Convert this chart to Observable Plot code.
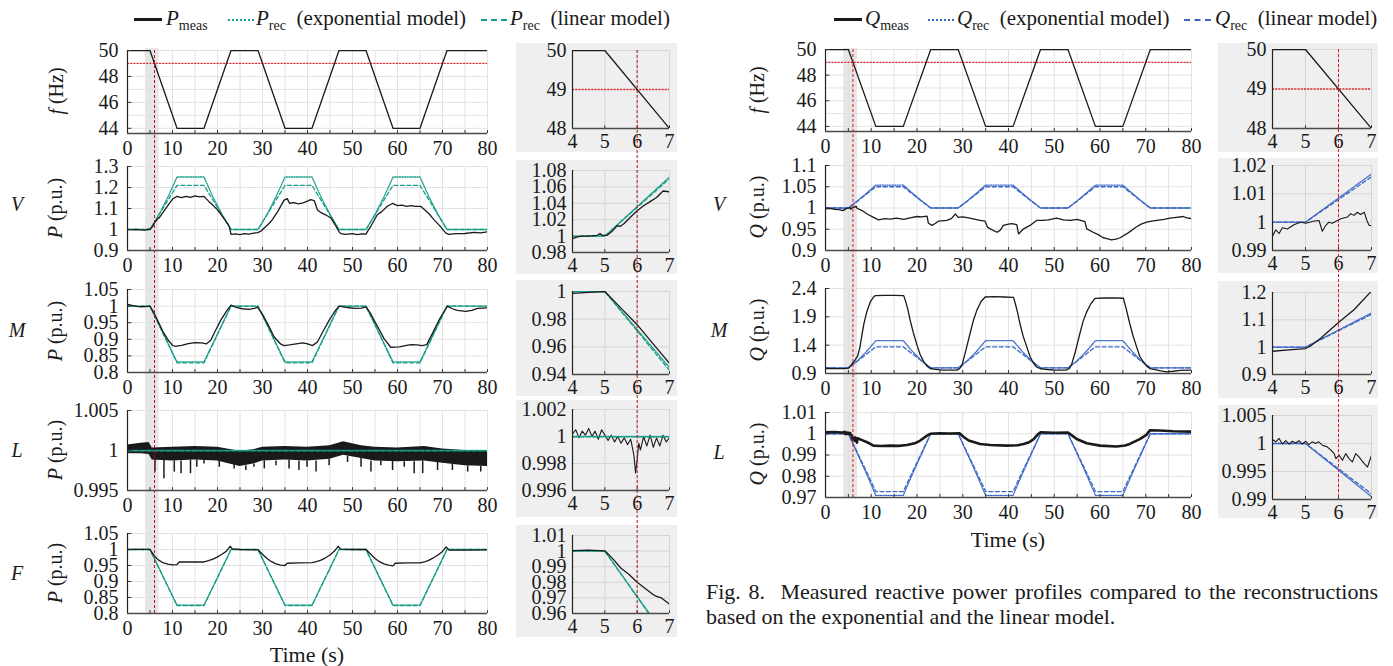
<!DOCTYPE html>
<html><head><meta charset="utf-8">
<script src="https://cdn.jsdelivr.net/npm/d3@7"></script>
<script src="https://cdn.jsdelivr.net/npm/@observablehq/plot@0.6"></script>
<style>
body{margin:0;background:#fff;}
#root{position:relative;width:1393px;height:666px;overflow:hidden;background:#fff;font-family:"Liberation Serif","Times New Roman",serif;color:#1a1a1a;}
#root svg, #root svg text{font-family:"Liberation Serif","Times New Roman",serif !important;}
.t{position:absolute;white-space:nowrap;font-size:20px;line-height:1;}
.rot{transform:translate(-50%,-50%) rotate(-90deg);}
.ctr{transform:translate(-50%,-50%);}
sub{font-size:14px;vertical-align:-5px;line-height:0;}
i{font-style:italic;}
</style></head><body><div id="root"></div>
<script>
// ---------------- DATA ----------------
const zoomWindow = [4, 7];
const markerT = 6;
const fThreshold = 49;

const mainXTicks = [0,10,20,30,40,50,60,70,80];
const mainXGrid = [0,5,10,15,20,25,30,35,40,45,50,55,60,65,70,75,80];
const insetXTicks = [4,5,6,7];

// frequency profile
const tProfile = [0,5,11,17,23,29,35,41,47,53,59,65,71,80];
const fHz      = [50,50,44,44,50,50,44,44,50,50,44,44,50,50];

// reconstructions (time points and values)
const tRec = [0,5,7,9,11,17,19,21,23,29,31,33,35,41,43,45,47,53,55,57,59,65,67,69,71,80];
const pV_exp = [1,1,1.072,1.155,1.25,1.25,1.155,1.072,1,1,1.072,1.155,1.25,1.25,1.155,1.072,1,1,1.072,1.155,1.25,1.25,1.155,1.072,1,1];
const pV_lin = [1,1,1.07,1.14,1.21,1.21,1.14,1.07,1,1,1.07,1.14,1.21,1.21,1.14,1.07,1,1,1.07,1.14,1.21,1.21,1.14,1.07,1,1];
const pM_exp = [1,1,0.945,0.888,0.832,0.832,0.888,0.945,1,1,0.945,0.888,0.832,0.832,0.888,0.945,1,1,0.945,0.888,0.832,0.832,0.888,0.945,1,1];
const pM_lin = [1,1,0.943,0.886,0.829,0.829,0.886,0.943,1,1,0.943,0.886,0.829,0.829,0.886,0.943,1,1,0.943,0.886,0.829,0.829,0.886,0.943,1,1];
const pF_exp = [1,1,0.942,0.884,0.826,0.826,0.884,0.942,1,1,0.942,0.884,0.826,0.826,0.884,0.942,1,1,0.942,0.884,0.826,0.826,0.884,0.942,1,1];
const pF_lin = [1,1,0.941,0.883,0.825,0.825,0.883,0.941,1,1,0.941,0.883,0.825,0.825,0.883,0.941,1,1,0.941,0.883,0.825,0.825,0.883,0.941,1,1];
const tFlat = [0,80];
const pL_exp = [1,1];
const pL_lin = [0.99997,0.99997];
const qV_exp = [1,1,1.017,1.035,1.054,1.054,1.035,1.017,1,1,1.017,1.035,1.054,1.054,1.035,1.017,1,1,1.017,1.035,1.054,1.054,1.035,1.017,1,1];
const qV_lin = [1,1,1.016,1.033,1.05,1.05,1.033,1.016,1,1,1.016,1.033,1.05,1.05,1.033,1.016,1,1,1.016,1.033,1.05,1.05,1.033,1.016,1,1];
const qM_exp = [1,1,1.125,1.29,1.48,1.48,1.29,1.125,1,1,1.125,1.29,1.48,1.48,1.29,1.125,1,1,1.125,1.29,1.48,1.48,1.29,1.125,1,1];
const qM_lin = [1,1,1.12,1.245,1.37,1.37,1.245,1.12,1,1,1.12,1.245,1.37,1.37,1.245,1.12,1,1,1.12,1.245,1.37,1.37,1.245,1.12,1,1];
const qL_exp = [1,1,0.9905,0.981,0.971,0.971,0.981,0.9905,1,1,0.9905,0.981,0.971,0.971,0.981,0.9905,1,1,0.9905,0.981,0.971,0.971,0.981,0.9905,1,1];
const qL_lin = [1,1,0.991,0.982,0.9728,0.9728,0.982,0.991,1,1,0.991,0.982,0.9728,0.9728,0.982,0.991,1,1,0.991,0.982,0.9728,0.9728,0.982,0.991,1,1];

// measured active power [t, P]
const pV_meas = [[0,1.0],[1,0.999],[2,1.0],[3,0.998],[3.7,0.997],[4,0.997],[4.15,0.999],[4.3,1.0],[4.5,1.0],[4.77,1.001],[4.85,1.003],[4.92,1.001],[5.07,1.001],[5.23,1.006],[5.38,1.0125],[5.48,1.012],[5.59,1.015],[5.79,1.023],[6,1.031],[6.2,1.037],[6.4,1.042],[6.6,1.047],[6.8,1.055],[7,1.054],[8,1.085],[9,1.115],[10,1.145],[11,1.158],[12,1.152],[13,1.158],[14,1.153],[15,1.16],[16,1.155],[17,1.158],[18,1.135],[19,1.115],[20,1.094],[21,1.065],[22,1.035],[22.6,1.016],[23,0.977],[24,0.979],[25,0.976],[26,0.98],[27,0.978],[28,0.983],[29,0.985],[29.6,0.992],[30.5,1.01],[31.5,1.03],[32.2,1.047],[33.5,1.09],[34.8,1.14],[35.5,1.147],[36,1.125],[37,1.128],[38,1.122],[39,1.127],[40,1.135],[40.7,1.142],[41.5,1.138],[42.2,1.094],[43,1.08],[44,1.07],[45.2,1.055],[46.2,1.02],[47,0.99],[47.4,0.98],[48.5,0.977],[50,0.98],[51,0.976],[52,0.979],[53,0.978],[53.3,0.99],[54.2,1.02],[55.5,1.07],[56.5,1.085],[57.8,1.112],[58.9,1.124],[60,1.114],[61,1.116],[62,1.11],[63,1.114],[64,1.11],[65.2,1.11],[66.2,1.09],[67,1.075],[68.1,1.047],[69.5,1.015],[70.7,0.984],[71.4,0.977],[73,0.98],[75,0.981],[77,0.986],[78.5,0.984],[80,0.989]];
const pM_meas = [[0,1.005],[1,1.002],[2,0.999],[3,0.998],[4,0.9986],[4.5,0.9993],[5,1.0],[5.5,0.988],[6,0.976],[6.5,0.962],[7,0.948],[8,0.92],[9,0.898],[10,0.882],[10.5,0.879],[12,0.882],[13.5,0.887],[15,0.89],[16.5,0.889],[17.5,0.886],[18.5,0.897],[19.5,0.925],[20.7,0.957],[22,0.985],[23,1.003],[24,0.997],[25.5,0.992],[27,0.99],[28.2,0.993],[28.9,0.997],[30,0.975],[31.2,0.945],[32.6,0.907],[34,0.886],[34.8,0.881],[36,0.883],[37.5,0.886],[38.9,0.889],[40,0.886],[41.1,0.881],[42.2,0.892],[43.5,0.925],[44.8,0.957],[46,0.983],[47,1.0],[48.3,0.997],[49.3,0.995],[50.7,0.993],[52,0.994],[53,0.998],[54,0.978],[54.8,0.957],[56,0.928],[57,0.902],[58.5,0.876],[60.4,0.877],[62,0.882],[63,0.884],[64.3,0.883],[65.5,0.881],[66.5,0.884],[68.1,0.927],[69.5,0.965],[71.1,1.0],[72.2,0.992],[73.3,0.987],[75.2,0.984],[76.5,0.987],[77.8,0.993],[80,0.995]];
const pF_meas = [[0,1.0],[2,1.0005],[4,1.0003],[4.5,1.0006],[5,1.0002],[5.25,0.995],[5.5,0.989],[5.75,0.985],[6,0.980],[6.25,0.976],[6.5,0.972],[6.6,0.971],[6.75,0.970],[7,0.966],[8,0.958],[9,0.954],[10,0.952],[11,0.953],[11.5,0.961],[14,0.961],[17,0.961],[18,0.965],[19,0.97],[20,0.977],[21,0.985],[22,0.995],[22.8,1.01],[23.3,1.002],[25,1.0],[29,0.999],[30,0.985],[31,0.972],[32,0.962],[33,0.955],[34,0.951],[35,0.950],[35.5,0.957],[38,0.958],[41,0.959],[42,0.962],[43,0.967],[44,0.974],[45,0.983],[46,0.995],[46.8,1.01],[47.4,1.001],[50,1.0],[53,1.0],[54,0.986],[55,0.972],[56,0.962],[57,0.955],[58,0.951],[59,0.949],[59.5,0.957],[62,0.958],[65,0.958],[66,0.961],[67,0.967],[68,0.974],[69,0.983],[70,0.994],[70.8,1.008],[71.5,0.998],[75,0.998],[80,0.999]];
// load L: noise band [t, low, high], downward spikes [t, from, to], zoomed trace [t, P]
const pL_band = [[0,0.9996,1.0007],[3,0.9996,1.0009],[4.8,0.9995,1.0010],[5.5,0.9988,1.0003],[10,0.9987,1.0004],[15,0.9988,1.0005],[20,0.9987,1.0004],[25,0.9980,0.9999],[28,0.9983,1.0001],[30,0.9987,1.0004],[35,0.9988,1.0005],[40,0.9987,1.0004],[45,0.9989,1.0006],[48,0.9994,1.0011],[52,0.9990,1.0006],[55,0.9987,1.0004],[60,0.9986,1.0003],[66,0.9987,1.0005],[70,0.9984,1.0002],[75,0.9981,1.0000],[80,0.9980,0.9999]];
const pL_spikes = [[6.1,0.9989,0.9973],[8.1,0.9988,0.99646],[10.4,0.9987,0.9973],[11.9,0.9987,0.9971],[14,0.9988,0.9971],[15.4,0.9988,0.9979],[17,0.9988,0.9983],[20.4,0.9987,0.9979],[23.7,0.9984,0.9977],[26.3,0.9981,0.9975],[28.1,0.9983,0.9979],[30.4,0.9987,0.9977],[33,0.9987,0.9981],[35.9,0.9988,0.9977],[38.1,0.9987,0.9975],[39.9,0.9987,0.9979],[41.9,0.9987,0.9973],[44.8,0.9989,0.9981],[48.9,0.9993,0.9985],[51.9,0.9990,0.9979],[54.1,0.9987,0.9973],[56.3,0.9987,0.9981],[58.9,0.9987,0.9975],[61.5,0.9986,0.9979],[63.7,0.9986,0.9971],[65.6,0.9987,0.9971],[68.9,0.9985,0.9975],[72.2,0.9983,0.9975],[75.6,0.9981,0.9973],[78.5,0.9980,0.9973]];
const pL_zoom = [[4,1.0002],[4.1,1.0005],[4.2,0.9999],[4.3,1.0004],[4.4,1.0001],[4.5,1.0006],[4.6,1.0],[4.7,1.0004],[4.8,0.9998],[4.9,1.0005],[5.0,1.0001],[5.1,0.9997],[5.2,1.0001],[5.3,0.9996],[5.4,1.0],[5.5,0.9995],[5.6,0.9999],[5.7,0.9994],[5.8,0.9998],[5.9,0.9986],[5.95,0.9973],[6.0,0.9983],[6.05,0.9995],[6.1,0.999],[6.2,1.0],[6.3,0.9993],[6.4,1.0001],[6.5,0.9992],[6.6,0.9999],[6.7,0.9993],[6.8,1.0001],[6.9,0.9996],[7,0.9999]];

// measured reactive power [t, Q]
const qV_meas = [[0,0.998],[1,0.999],[2,0.997],[3,0.996],[3.7,0.994],[4,0.995],[4.1,0.9973],[4.2,0.996],[4.3,0.998],[4.45,0.9976],[4.66,0.9992],[4.86,1.0],[5.01,0.9996],[5.26,1.0004],[5.41,1.0006],[5.51,0.9968],[5.61,0.9988],[5.71,1.0],[5.81,0.9996],[5.97,1.0006],[6.07,1.0012],[6.27,1.0018],[6.37,1.003],[6.47,1.0024],[6.57,1.0035],[6.67,1.0027],[6.78,1.0035],[6.86,1.0006],[6.93,0.9988],[7,0.9988],[8,0.994],[9.1,0.986],[10.5,0.978],[11.6,0.972],[13,0.975],[14.2,0.974],[15.5,0.976],[17.1,0.973],[18.5,0.977],[20,0.98],[21,0.979],[22.2,0.981],[22.5,0.964],[23.3,0.959],[24.7,0.969],[26.5,0.971],[27.5,0.975],[28.4,0.986],[29,0.978],[30,0.979],[31.3,0.977],[32.5,0.974],[33.8,0.971],[34.9,0.969],[35.4,0.955],[36,0.951],[37.5,0.943],[38.2,0.948],[38.9,0.959],[40,0.962],[40.7,0.963],[41.8,0.961],[42.2,0.939],[43.3,0.951],[44.7,0.959],[46.2,0.971],[47.5,0.971],[48.7,0.972],[50.5,0.976],[52,0.972],[53.5,0.971],[55,0.973],[56.7,0.968],[57.1,0.951],[58.5,0.943],[59.5,0.938],[60.7,0.93],[61.5,0.928],[62.5,0.925],[63.5,0.927],[64.4,0.93],[65.8,0.939],[67,0.948],[68,0.956],[69,0.962],[70.2,0.967],[71.3,0.969],[72.4,0.971],[74,0.973],[75.3,0.976],[76.7,0.978],[78.2,0.98],[79,0.977],[80,0.975]];
const qM_meas = [[0,0.988],[2,0.985],[4,0.985],[4.5,0.99],[5,0.995],[5.16,1.005],[5.46,1.033],[6,1.09],[6.47,1.137],[7,1.205],[7.5,1.35],[8,1.6],[8.4,1.78],[9,1.98],[9.8,2.165],[10.4,2.24],[10.9,2.275],[13,2.28],[15,2.28],[17.1,2.275],[17.6,2.15],[18,2.03],[18.5,1.84],[19.2,1.62],[20,1.4],[20.7,1.23],[21.5,1.106],[22.2,1.03],[22.9,0.988],[24,0.972],[25.8,0.96],[27.5,0.958],[28.7,0.96],[29.3,0.985],[29.8,1.04],[30.5,1.25],[31.6,1.606],[32.3,1.83],[33.1,2.018],[34,2.17],[34.9,2.25],[37,2.255],[39,2.25],[41.1,2.245],[41.6,2.1],[42,1.97],[42.5,1.782],[43.2,1.56],[44,1.37],[44.7,1.2],[45.5,1.076],[46.2,1.01],[46.9,0.988],[48,0.972],[49.8,0.962],[51.5,0.96],[52.7,0.961],[53.3,0.99],[53.8,1.06],[54.6,1.28],[55.6,1.606],[56.3,1.82],[57.1,1.988],[58,2.13],[58.9,2.225],[61,2.232],[63,2.235],[65.1,2.228],[65.6,2.08],[66,1.95],[66.5,1.782],[67.2,1.57],[68,1.37],[68.7,1.2],[69.5,1.106],[70.2,1.03],[70.9,0.988],[72,0.97],[73.3,0.945],[74.5,0.93],[76,0.94],[77.5,0.955],[80,0.958]];
const qL_meas = [[0,1.0007],[2,1.0008],[3.5,1.0006],[4,1.0007],[4.1,1.0003],[4.2,1.0009],[4.3,0.9999],[4.4,1.0005],[4.5,0.9999],[4.6,1.0004],[4.7,1.0001],[4.8,1.0005],[4.9,0.9999],[5.01,1.0004],[5.1,0.9998],[5.2,1.0003],[5.3,1.0],[5.4,1.0003],[5.51,0.9997],[5.66,0.9994],[5.77,0.9988],[5.87,0.9982],[5.92,0.9973],[6.02,0.9979],[6.12,0.997],[6.22,0.9982],[6.32,0.9973],[6.42,0.9967],[6.52,0.9982],[6.62,0.9976],[6.78,0.9964],[6.88,0.9958],[7,0.9979],[8,0.997],[9.1,0.996],[10.5,0.9944],[12,0.9942],[14.2,0.9944],[16,0.9943],[17.8,0.9947],[19.5,0.9955],[20.7,0.9968],[22.2,0.9991],[22.9,1.0],[25,1.0002],[27,1.0001],[29.3,1.0002],[30.2,0.9985],[31.3,0.9968],[33.8,0.9952],[36,0.9947],[39.6,0.9944],[42,0.9946],[43.3,0.9952],[44.5,0.996],[45.5,0.9975],[46.5,0.9999],[47,1.0007],[50,1.0005],[53,1.0006],[54,0.999],[54.9,0.9975],[57.1,0.9955],[60,0.9944],[63.6,0.994],[65.5,0.9945],[66.5,0.9952],[68.7,0.9975],[70.2,0.9996],[70.9,1.0016],[73,1.0015],[76,1.0012],[80,1.001]];

// ---------------- STYLE / LAYOUT ----------------
const root = document.getElementById('root');
const FONT = '"Liberation Serif","Times New Roman",serif';
const BLACK = '#1a1a1a', TEAL = '#179e88', BLUE = '#3a66c6';
const RED_L = '#b4141e', RED_R = '#de1a1a', RED_H = '#e5262c';
const GRID_MAIN = '#e2e2e2', GRID_IN = '#d5d5d5', INSET_BG = '#efefef', BAND = '#e6e6e6';

const L_MAIN = {x0: 67, fx0: 127, fx1: 487, x1: 500};
const R_MAIN = {x0: 765, fx0: 825, fx1: 1191, x1: 1204};
const L_IN = {x0: 516, fx0: 572, fx1: 669, x1: 677};
const R_IN = {x0: 1218, fx0: 1272, fx1: 1371, x1: 1378};

function put(node, x, y, z) {
  node.style.position = 'absolute';
  node.style.left = x + 'px';
  node.style.top = y + 'px';
  node.style.zIndex = z;
  root.appendChild(node);
}
const pairs = (t, v) => t.map((d, i) => [d, v[i]]);
const fmt = d => String(d);
const measLine = (data, w = 1.3) => Plot.line(data, {x: d => d[0], y: d => d[1], stroke: BLACK, strokeWidth: w, clip: true});
const expLine = (t, v, c) => Plot.line(pairs(t, v), {x: d => d[0], y: d => d[1], stroke: c, strokeWidth: 1.3, strokeDasharray: '1.2,1.3', clip: true});
const linLine = (t, v, c) => Plot.line(pairs(t, v), {x: d => d[0], y: d => d[1], stroke: c, strokeWidth: 1.3, strokeDasharray: '4,2.5', clip: true});

function panel(col, fyT, fyB, boxY0, boxY1, xDomain, xTicks, xGrid, yDomain, yTicks, yGrid, marks, bg, gridColor, xPad, yPad, fs) {
  const [x0, x1] = xDomain, [y0, y1] = yDomain;
  const svg = Plot.plot({
    width: col.x1 - col.x0, height: boxY1 - boxY0,
    marginLeft: col.fx0 - col.x0, marginRight: col.x1 - col.fx1,
    marginTop: fyT - boxY0, marginBottom: boxY1 - fyB,
    style: `background:${bg};font-size:${fs}px;color:#1a1a1a;overflow:visible;`,
    x: {domain: xDomain, ticks: xTicks, tickSize: 0, tickPadding: xPad, tickFormat: fmt, label: null},
    y: {domain: yDomain, ticks: yTicks, tickSize: 0, tickPadding: yPad, tickFormat: fmt, label: null},
    marks: [
      Plot.ruleX(xGrid, {stroke: gridColor, strokeWidth: 1}),
      Plot.ruleY(yGrid, {stroke: gridColor, strokeWidth: 1}),
      ...marks,
      Plot.ruleY(yTicks, {x1: x0, x2: x0 + (x1 - x0) * 0.012, stroke: '#333'}),
      Plot.ruleX(xGrid, {y1: y0, y2: y0 + (y1 - y0) * 0.035, stroke: '#333'}),
      Plot.ruleX([x0], {stroke: '#222', strokeWidth: 1.2}),
      Plot.ruleY([y0], {stroke: '#4a4a4a', strokeWidth: 1.6})
    ]
  });
  put(svg, col.x0, boxY0, 2);
}
function mainPanel(col, fyT, fyB, yDomain, yTicks, yGrid, marks) {
  panel(col, fyT, fyB, fyT - 12, fyB + 30, [0, 80], mainXTicks, mainXGrid, yDomain, yTicks, yGrid, marks, 'transparent', GRID_MAIN, 7, 9, 20);
}
function insetPanel(col, fyT, fyB, bgY0, bgY1, yDomain, yTicks, marks) {
  panel(col, fyT, fyB, bgY0, bgY1, zoomWindow, insetXTicks, insetXTicks, yDomain, yTicks, yTicks, marks, INSET_BG, GRID_IN, 5, 6, 20);
}
function overlay(col, y0, y1, domain, marks, z) {
  const svg = Plot.plot({
    width: col.x1 - col.x0, height: y1 - y0,
    marginLeft: col.fx0 - col.x0, marginRight: col.x1 - col.fx1, marginTop: 0, marginBottom: 0,
    style: 'background:transparent;overflow:visible;',
    x: {domain, axis: null}, y: {domain: [0, 1], axis: null},
    marks
  });
  svg.style.pointerEvents = 'none';
  put(svg, col.x0, y0, z);
}

// ---- zoom-window band behind main panels, marker lines in front ----
overlay(L_MAIN, 48, 613, [0, 80], [Plot.rect([zoomWindow], {x1: d => d[0], x2: d => d[1], fill: BAND})], 1);
overlay(R_MAIN, 48, 497, [0, 80], [Plot.rect([zoomWindow], {x1: d => d[0], x2: d => d[1], fill: BAND})], 1);
overlay(L_MAIN, 50, 613, [0, 80], [Plot.ruleX([markerT], {stroke: RED_L, strokeWidth: 1, strokeDasharray: '3,2'})], 5);
overlay(R_MAIN, 49, 497, [0, 80], [Plot.ruleX([markerT], {stroke: RED_R, strokeWidth: 1, strokeDasharray: '3,2'})], 5);
overlay(L_IN, 50, 613, zoomWindow, [Plot.ruleX([markerT], {stroke: RED_L, strokeWidth: 1, strokeDasharray: '3,2'})], 5);
overlay(R_IN, 49, 499, zoomWindow, [Plot.ruleX([markerT], {stroke: RED_R, strokeWidth: 1, strokeDasharray: '3,2'})], 5);

// ---------------- LEFT COLUMN (active power) ----------------
const fMarks = () => [Plot.ruleY([fThreshold], {stroke: RED_H, strokeWidth: 1.3, strokeDasharray: '2,1.2'}), measLine(pairs(tProfile, fHz))];
mainPanel(L_MAIN, 50, 133, [43.6, 50], [44,46,48,50], [44,45,46,47,48,49,50], fMarks());
insetPanel(L_IN, 50, 128, 43, 152, [48, 50], [48,49,50], fMarks());

mainPanel(L_MAIN, 166, 250, [0.9, 1.3], [0.9,1,1.1,1.2,1.3], [0.9,1,1.1,1.2,1.3],
  [expLine(tRec, pV_exp, TEAL), linLine(tRec, pV_lin, TEAL), measLine(pV_meas)]);
insetPanel(L_IN, 170, 252, 160, 274, [0.98, 1.08], [0.98,1,1.02,1.04,1.06,1.08],
  [expLine(tRec, pV_exp, TEAL), linLine(tRec, pV_lin, TEAL), measLine(pV_meas)]);

mainPanel(L_MAIN, 289, 372, [0.8, 1.05], [0.8,0.85,0.9,0.95,1,1.05], [0.8,0.85,0.9,0.95,1,1.05],
  [expLine(tRec, pM_exp, TEAL), linLine(tRec, pM_lin, TEAL), measLine(pM_meas)]);
insetPanel(L_IN, 291, 374, 280, 396, [0.94, 1], [0.94,0.96,0.98,1],
  [expLine(tRec, pM_exp, TEAL), linLine(tRec, pM_lin, TEAL), measLine(pM_meas)]);

mainPanel(L_MAIN, 410, 490, [0.995, 1.005], [0.995,1,1.005], [0.995,1,1.005], [
  Plot.areaY(pL_band, {x: d => d[0], y1: d => d[1], y2: d => d[2], fill: BLACK, clip: true}),
  Plot.ruleX(pL_spikes, {x: d => d[0], y1: d => d[1], y2: d => d[2], stroke: BLACK, strokeWidth: 1.5}),
  expLine(tFlat, pL_exp, TEAL), linLine(tFlat, pL_lin, TEAL)]);
insetPanel(L_IN, 409, 490, 400, 517, [0.996, 1.002], [0.996,0.998,1,1.002],
  [measLine(pL_zoom, 1.1), expLine(tFlat, pL_exp, TEAL), linLine(tFlat, pL_lin, TEAL)]);

mainPanel(L_MAIN, 533, 613, [0.8, 1.05], [0.8,0.85,0.9,0.95,1,1.05], [0.8,0.85,0.9,0.95,1,1.05],
  [expLine(tRec, pF_exp, TEAL), linLine(tRec, pF_lin, TEAL), measLine(pF_meas)]);
insetPanel(L_IN, 535, 613, 525, 637, [0.96, 1.01], [0.96,0.97,0.98,0.99,1,1.01],
  [expLine(tRec, pF_exp, TEAL), linLine(tRec, pF_lin, TEAL), measLine(pF_meas)]);

// ---------------- RIGHT COLUMN (reactive power) ----------------
mainPanel(R_MAIN, 49, 131, [43.6, 50], [44,46,48,50], [44,45,46,47,48,49,50], fMarks());
insetPanel(R_IN, 49, 128, 43, 152, [48, 50], [48,49,50], fMarks());

mainPanel(R_MAIN, 165, 250, [0.9, 1.1], [0.9,0.95,1,1.05,1.1], [0.9,0.95,1,1.05,1.1],
  [expLine(tRec, qV_exp, BLUE), linLine(tRec, qV_lin, BLUE), measLine(qV_meas)]);
insetPanel(R_IN, 165, 250, 158, 273, [0.99, 1.02], [0.99,1,1.01,1.02],
  [expLine(tRec, qV_exp, BLUE), linLine(tRec, qV_lin, BLUE), measLine(qV_meas, 1.1)]);

mainPanel(R_MAIN, 288, 373, [0.9, 2.4], [0.9,1.4,1.9,2.4], [0.9,1.4,1.9,2.4],
  [expLine(tRec, qM_exp, BLUE), linLine(tRec, qM_lin, BLUE), measLine(qM_meas)]);
insetPanel(R_IN, 292, 374, 281, 398, [0.9, 1.2], [0.9,1,1.1,1.2],
  [expLine(tRec, qM_exp, BLUE), linLine(tRec, qM_lin, BLUE), measLine(qM_meas)]);

mainPanel(R_MAIN, 412, 497, [0.97, 1.01], [0.97,0.98,0.99,1,1.01], [0.97,0.98,0.99,1,1.01],
  [expLine(tRec, qL_exp, BLUE), linLine(tRec, qL_lin, BLUE), measLine(qL_meas, 2.6)]);
insetPanel(R_IN, 415, 499, 405, 518, [0.99, 1.005], [0.99,0.995,1,1.005],
  [expLine(tRec, qL_exp, BLUE), linLine(tRec, qL_lin, BLUE), measLine(qL_meas, 1.1)]);

// ---------------- TEXT ----------------
function text(html, x, y, cls, extra) {
  const d = document.createElement('div');
  d.className = 't ' + (cls || '');
  d.innerHTML = html;
  if (extra) Object.assign(d.style, extra);
  put(d, x, y, 6);
  return d;
}
// y-axis labels
text('<i>f</i> (Hz)', 56, 91, 'rot');
text('<i>P</i> (p.u.)', 55, 208, 'rot');
text('<i>P</i> (p.u.)', 55, 331, 'rot');
text('<i>P</i> (p.u.)', 55, 450, 'rot');
text('<i>P</i> (p.u.)', 55, 573, 'rot');
text('<i>f</i> (Hz)', 757, 90, 'rot');
text('<i>Q</i> (p.u.)', 757, 207, 'rot');
text('<i>Q</i> (p.u.)', 757, 330, 'rot');
text('<i>Q</i> (p.u.)', 757, 454, 'rot');
// row labels
const rowNames = ['V', 'M', 'L', 'F'];
[204, 330, 450, 573].forEach((y, i) => text('<i>' + rowNames[i] + '</i>', 17, y, 'ctr'));
[204, 330, 452].forEach((y, i) => text('<i>' + rowNames[i] + '</i>', 719, y, 'ctr'));
// x-axis titles
text('Time (s)', 307, 655, 'ctr', {fontSize: '22px'});
text('Time (s)', 1008, 540, 'ctr', {fontSize: '22px'});

// legends
function swatch(x, y, w, style) {
  const d = document.createElement('div');
  Object.assign(d.style, {width: w + 'px', height: '0px', borderTop: style});
  put(d, x, y, 6);
}
const LG = {fontSize: '21px'};
swatch(134, 18, 28, '3px solid ' + BLACK);
text('<i>P</i><sub>meas</sub>', 166, 8, '', LG);
swatch(228, 19, 26, '2px dotted ' + TEAL);
text('<i>P</i><sub>rec</sub>&nbsp; (exponential model)', 256, 8, '', LG);
swatch(481, 19, 26, '2px dashed ' + TEAL);
text('<i>P</i><sub>rec</sub>&nbsp; (linear model)', 510, 8, '', LG);

swatch(834, 18, 28, '3px solid ' + BLACK);
text('<i>Q</i><sub>meas</sub>', 865, 8, '', LG);
swatch(928, 19, 26, '2px dotted ' + BLUE);
text('<i>Q</i><sub>rec</sub>&nbsp; (exponential model)', 957, 8, '', LG);
swatch(1184, 19, 27, '2px dashed ' + BLUE);
text('<i>Q</i><sub>rec</sub>&nbsp; (linear model)', 1215, 8, '', LG);

// caption (two lines, the first justified across the column)
text('Fig. 8.&nbsp; Measured reactive power profiles compared to the reconstructions', 706, 580, '',
  {width: '672px', whiteSpace: 'normal', textAlign: 'justify', textAlignLast: 'justify', fontSize: '22px', lineHeight: '24px'});
text('based on the exponential and the linear model.', 706, 605, '', {fontSize: '22px', lineHeight: '24px'});
</script></body></html>
